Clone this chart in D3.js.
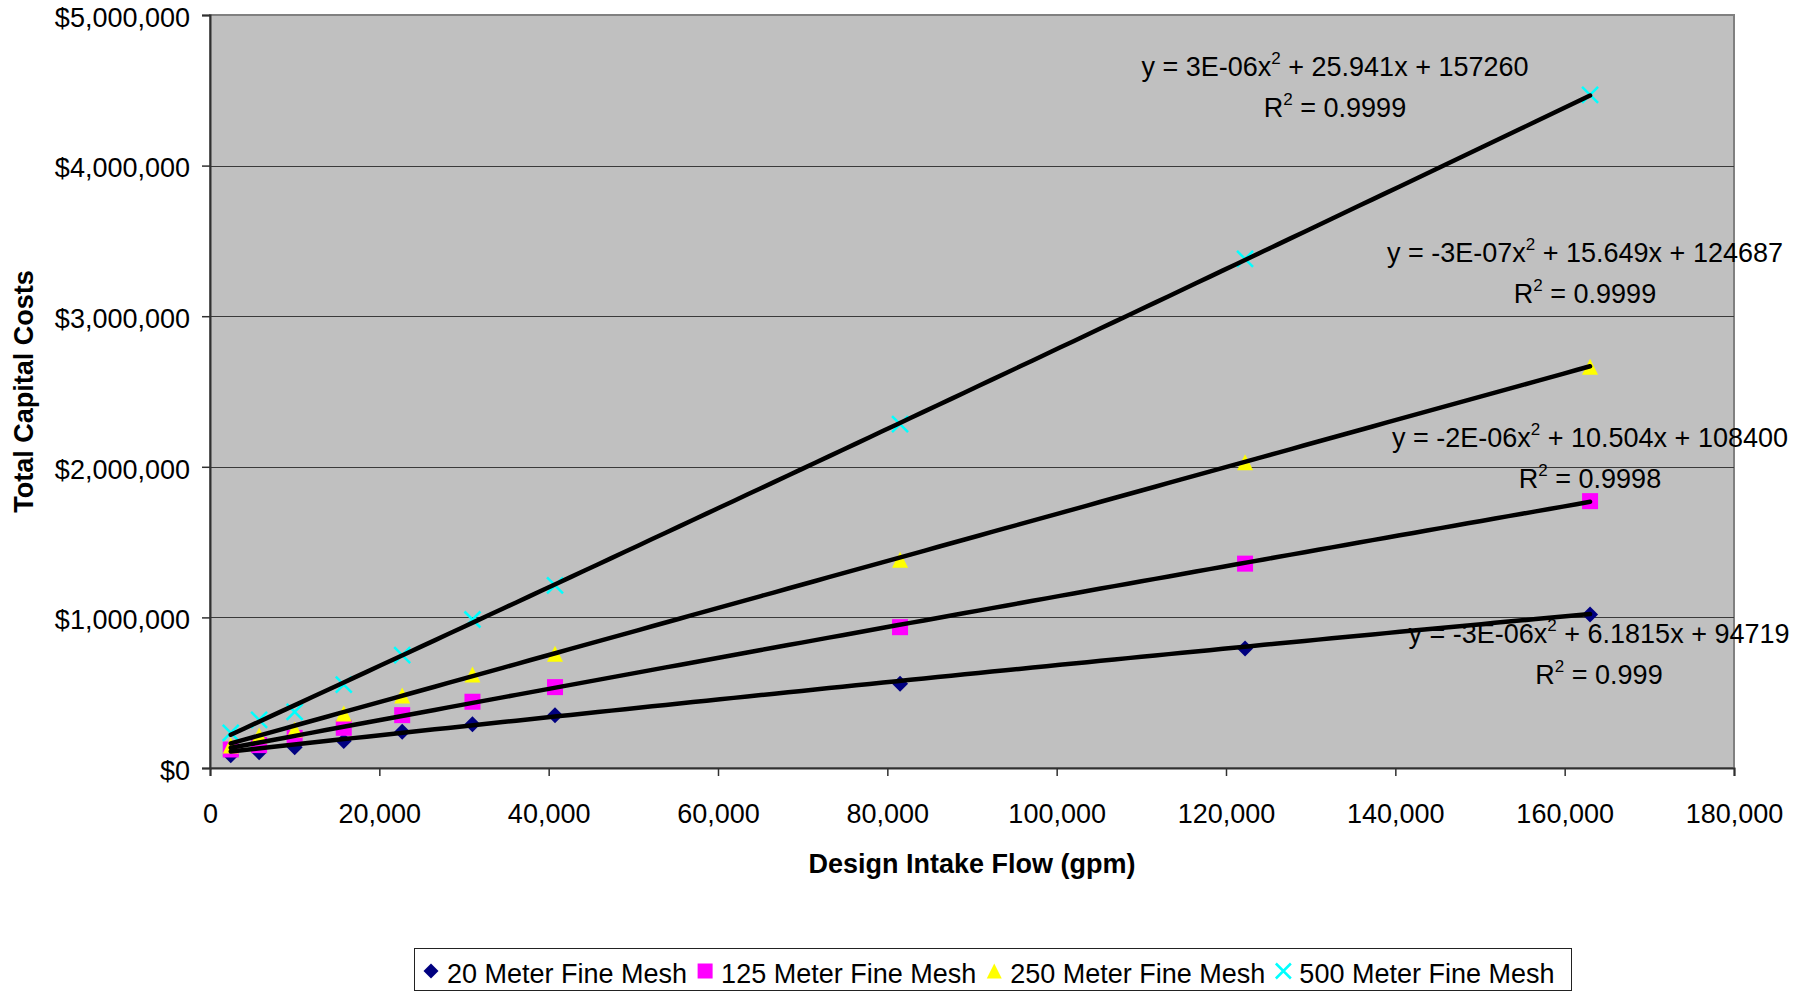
<!DOCTYPE html>
<html>
<head>
<meta charset="utf-8">
<script src="https://cdn.jsdelivr.net/npm/d3@7"></script>
<style>
  html, body { margin: 0; padding: 0; background: #fff; }
  svg { display: block; font-family: "Liberation Sans", Arial, sans-serif; }
</style>
</head>
<body>
<svg id="chart" width="1813" height="991"></svg>
<script>
// ---------------- data ----------------
const xValues = [2450, 5800, 10000, 15800, 22700, 31000, 40750, 81500, 122250, 163000];
const mesh20  = [85000, 105000, 138000, 180000, 240000, 290000, 350000, 560000, 793000, 1019000];
const mesh125 = [123000, 152000, 200000, 267000, 351000, 440000, 537000, 935000, 1357000, 1772000];
const mesh250 = [150000, 215000, 256000, 362000, 481000, 621000, 758000, 1383000, 2030000, 2665000];
const mesh500 = [234000, 320000, 372000, 554000, 749000, 986000, 1212000, 2283000, 3380000, 4470000];
const seriesNames = ["20 Meter Fine Mesh", "125 Meter Fine Mesh", "250 Meter Fine Mesh", "500 Meter Fine Mesh"];
// polynomial trendline coefficients [a (x^2), b (x), c]
const trendCoefs = [
  [-3e-6, 6.1815, 94719],
  [-2e-6, 10.504, 108400],
  [-3e-7, 15.649, 124687],
  [3e-6, 25.941, 157260]
];
const eqHead = ["y = -3E-06x", "y = -2E-06x", "y = -3E-07x", "y = 3E-06x"];
const eqTail = [" + 6.1815x + 94719", " + 10.504x + 108400", " + 15.649x + 124687", " + 25.941x + 157260"];
const rSquared = ["0.999", "0.9998", "0.9999", "0.9999"];
const xTicks = [0, 20000, 40000, 60000, 80000, 100000, 120000, 140000, 160000, 180000];
const yTicks = [0, 1000000, 2000000, 3000000, 4000000, 5000000];
const xTitle = "Design Intake Flow (gpm)";
const yTitle = "Total Capital Costs";

// ---------------- layout ----------------
const plot = { left: 210, right: 1734, top: 15, bottom: 768 };
const colors = ["#000080", "#FF00FF", "#FFFF00", "#00FFFF"];
const shapes = ["diamond", "square", "triangle", "x"];
// equation label anchors (center x, baseline y of first line)
const eqPos = [[1599, 643], [1590, 447], [1585, 262], [1335, 76]];
const FONT = 27;

const svg = d3.select("#chart");
const x = d3.scaleLinear().domain([0, 180000]).range([plot.left, plot.right]);
const y = d3.scaleLinear().domain([0, 5000000]).range([plot.bottom, plot.top]);

// plot background
svg.append("rect")
  .attr("x", plot.left).attr("y", plot.top)
  .attr("width", plot.right - plot.left).attr("height", plot.bottom - plot.top)
  .attr("fill", "#C0C0C0").attr("stroke", "#808080").attr("stroke-width", 2);

// gridlines
svg.append("g").selectAll("line").data(yTicks.filter(d => d > 0 && d < 5000000)).join("line")
  .attr("x1", plot.left).attr("x2", plot.right)
  .attr("y1", d => Math.round(y(d)) + 0.5).attr("y2", d => Math.round(y(d)) + 0.5)
  .attr("stroke", "#3a3a3a").attr("stroke-width", 1);

// axes
const yAxis = d3.axisLeft(y).tickValues(yTicks).tickSize(8).tickPadding(12)
  .tickFormat(d => "$" + d3.format(",")(d));
const xAxis = d3.axisBottom(x).tickValues(xTicks).tickSize(8).tickPadding(8)
  .tickFormat(d3.format(","));

const gy = svg.append("g").attr("transform", `translate(${plot.left},0)`).call(yAxis);
const gx = svg.append("g").attr("transform", `translate(0,${plot.bottom})`).call(xAxis);
[gx, gy].forEach(g => {
  g.select(".domain").attr("stroke", "#303030").attr("stroke-width", 2);
  g.selectAll(".tick line").attr("stroke", "#303030").attr("stroke-width", 1.5);
  g.selectAll(".tick text").attr("font-size", FONT).attr("fill", "#000")
    .attr("font-family", "'Liberation Sans', Arial, sans-serif");
});
gy.selectAll(".tick text").attr("dy", "0.42em");
gx.selectAll(".tick text").attr("y", 55).attr("dy", 0);

// axis titles
svg.append("text")
  .attr("x", (plot.left + plot.right) / 2).attr("y", 873)
  .attr("text-anchor", "middle").attr("font-size", FONT).attr("font-weight", "bold")
  .text(xTitle);
svg.append("text")
  .attr("transform", `translate(33,${(plot.top + plot.bottom) / 2}) rotate(-90)`)
  .attr("text-anchor", "middle").attr("font-size", FONT).attr("font-weight", "bold")
  .text(yTitle);

// marker drawer
function drawMarker(g, shape, color, s) {
  const h = s / 2;
  if (shape === "diamond") {
    g.append("path").attr("d", `M0,${-h}L${h},0L0,${h}L${-h},0Z`).attr("fill", color);
  } else if (shape === "square") {
    g.append("rect").attr("x", -h).attr("y", -h).attr("width", s).attr("height", s).attr("fill", color);
  } else if (shape === "triangle") {
    g.append("path").attr("d", `M0,${-h}L${h},${h}L${-h},${h}Z`).attr("fill", color);
  } else {
    g.append("path").attr("d", `M${-h},${-h}L${h},${h}M${h},${-h}L${-h},${h}`)
      .attr("stroke", color).attr("stroke-width", 2.5).attr("fill", "none");
  }
}

const allSeries = [mesh20, mesh125, mesh250, mesh500];

// markers
allSeries.forEach((vals, si) => {
  const g = svg.append("g");
  vals.forEach((v, i) => {
    const mg = g.append("g").attr("transform", `translate(${x(xValues[i])},${y(v)})`);
    drawMarker(mg, shapes[si], colors[si], 16);
  });
});

// trendlines
const xmin = d3.min(xValues), xmax = d3.max(xValues);
const line = d3.line().x(d => x(d[0])).y(d => y(d[1]));
trendCoefs.forEach(([a, b, c]) => {
  const pts = d3.range(0, 101).map(k => {
    const xv = xmin + (xmax - xmin) * k / 100;
    return [xv, a * xv * xv + b * xv + c];
  });
  svg.append("path").datum(pts).attr("d", line)
    .attr("fill", "none").attr("stroke", "#000").attr("stroke-width", 4.5)
    .attr("stroke-linecap", "round");
});

// equation labels
eqPos.forEach(([cx, by], i) => {
  const t1 = svg.append("text").attr("x", cx).attr("y", by)
    .attr("text-anchor", "middle").attr("font-size", FONT);
  t1.append("tspan").text(eqHead[i]);
  t1.append("tspan").attr("font-size", 17).attr("dy", -12).text("2");
  t1.append("tspan").attr("dy", 12).text(eqTail[i]);
  const t2 = svg.append("text").attr("x", cx).attr("y", by + 41)
    .attr("text-anchor", "middle").attr("font-size", FONT);
  t2.append("tspan").text("R");
  t2.append("tspan").attr("font-size", 17).attr("dy", -12).text("2");
  t2.append("tspan").attr("dy", 12).text(" = " + rSquared[i]);
});

// legend
const legend = svg.append("g");
legend.append("rect").attr("x", 414.5).attr("y", 948.5).attr("width", 1157).attr("height", 42)
  .attr("fill", "#fff").attr("stroke", "#222").attr("stroke-width", 1);
let lx = 431;
seriesNames.forEach((name, i) => {
  const mg = legend.append("g").attr("transform", `translate(${lx},971)`);
  drawMarker(mg, shapes[i], colors[i], 15);
  const t = legend.append("text").attr("x", lx + 16).attr("y", 983)
    .attr("font-size", FONT).text(name);
  const w = t.node().getComputedTextLength();
  lx = lx + 16 + w + 18;
});
</script>
</body>
</html>
